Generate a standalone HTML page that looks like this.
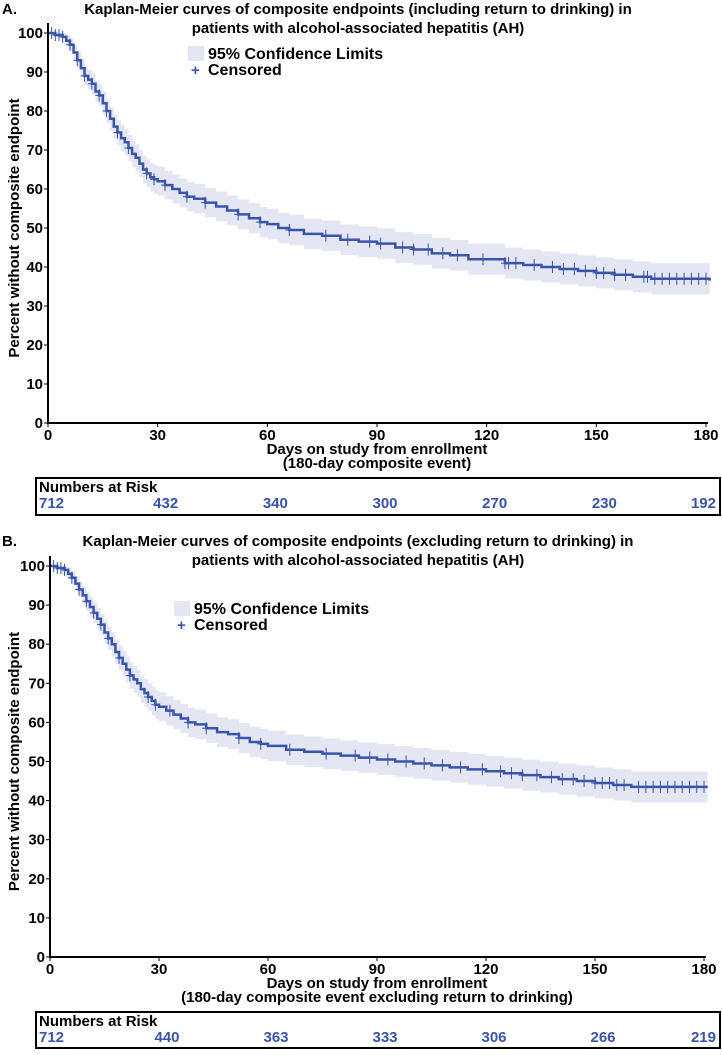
<!DOCTYPE html>
<html><head><meta charset="utf-8"><style>
body{margin:0;background:#fff;}
svg text{font-family:"Liberation Sans",Arial,sans-serif;font-weight:bold;}
</style></head><body>
<svg id="chart" width="722" height="1050" viewBox="0 0 722 1050" xmlns="http://www.w3.org/2000/svg">
</svg>
<script>
const xTicks=[0,30,60,90,120,150,180];
const yTicks=[0,10,20,30,40,50,60,70,80,90,100];
const daysA=[0,2,4,5,6,7,8,9,10,11,12,13,14,15,16,17,18,19,20,21,22,23,24,25,26,27,28,29,30,32,34,36,38,40,43,46,49,52,55,58,60,63,66,70,75,80,85,90,95,100,105,110,115,120,125,130,135,140,145,150,155,160,165,181];
const survA=[100,99.5,99,98,97,95,93,91,89,88,87,85,84,82,80,78,76,74.5,73,72,70.5,69,68,66.5,65,64,63,62.5,62,61,60,59,58,57.5,56.5,55.5,54.5,53.5,52.5,51.5,51,50,49.5,48.5,48,47,46.5,46,45,44.5,43.5,43,42,42,41,40.5,40,39.5,39,38.5,38,37.5,37,36.5];
const censA=[1,2,3,4,6,8,10,12,14,16,19,22,27,29,32,38,43,52,58,66,76,82,88,91,97,100,104,108,112,119,125,126,128,133,138,141,144,147,150,152,155,158,163,164,166,168,170,172,174,176,178,180];
const riskA=[712,432,340,300,270,230,192];
const daysB=[0,2,4,5,6,7,8,9,10,11,12,13,14,15,16,17,18,19,20,21,22,23,24,25,26,27,28,29,30,32,34,36,38,40,43,46,49,52,55,58,60,65,70,75,80,85,90,95,100,105,110,115,120,125,130,135,140,145,150,155,160,181];
const survB=[100,99.5,99,98,97,95.5,94,92.5,91,89.5,88,86.5,85,83,81.5,80,78,76.5,75,73.5,72,71,70,68.5,67.5,66.5,65.5,64.5,64,63,62,61,60,59.5,58.5,57.5,57,56,55,54.5,54,53,52.5,52,51.5,51,50.5,50,49.5,49,48.5,48,47.5,47,46.5,46,45.5,45,44.5,44,43.5,43.5];
const censB=[1,2,3,4,6,8,10,12,14,16,19,22,27,29,33,38,43,52,58,66,76,84,88,93,98,103,108,113,119,124,127,130,134,138,141,144,147,150,152,154,156,158,162,164,166,168,170,172,174,176,178,180];
const riskB=[712,440,363,333,306,266,219];
const ciDays=[0,5,10,20,30,60,180];
const ciHalf=[0,1.5,2.5,3.3,3.7,3.9,4.0];

const NS="http://www.w3.org/2000/svg";
const svg=document.getElementById('chart');
function mk(tag,attrs,parent,txt){const e=document.createElementNS(NS,tag);for(const k in attrs)e.setAttribute(k,attrs[k]);if(txt!==undefined)e.textContent=txt;(parent||svg).appendChild(e);return e;}
const BLUE="#3a54aa";
function ciAt(d){for(let i=1;i<ciDays.length;i++){if(d<=ciDays[i]){const f=(d-ciDays[i-1])/(ciDays[i]-ciDays[i-1]);return ciHalf[i-1]+f*(ciHalf[i]-ciHalf[i-1]);}}return ciHalf[ciHalf.length-1];}

function panel(o){
  const g=mk('g',{});
  
  
  const x=d=>o.x0+(o.x1-o.x0)*d/180;
  const y=v=>o.y0-(o.y0-o.y100)*v/100;
  let t=mk('text',{x:2,y:o.titleY,'font-size':15},g,o.letter);
  
  t=mk('text',{x:358,y:o.titleY,'font-size':15,'text-anchor':'middle'},g,o.title1);
  
  t=mk('text',{x:358,y:o.titleY+19,'font-size':15,'text-anchor':'middle'},g,'patients with alcohol-associated hepatitis (AH)');
  
  let up='',lo='';
  for(let i=0;i<o.days.length;i++){
    const xa=x(o.days[i]),xb=x(i+1<o.days.length?o.days[i+1]:o.days[i]);
    const h=ciAt(o.days[i]);
    up+=`${xa},${y(Math.min(100,o.surv[i]+h))} ${xb},${y(Math.min(100,o.surv[i]+h))} `;
    lo=`${xb},${y(o.surv[i]-h)} ${xa},${y(o.surv[i]-h)} `+lo;
  }
  let b=mk('polygon',{points:up+lo,fill:'#e4e6f4'},g);
  
  let d=`M${x(o.days[0])},${y(o.surv[0])}`;
  for(let i=1;i<o.days.length;i++){d+=` H${x(o.days[i])} V${y(o.surv[i])}`;}
  let p=mk('path',{d:d,fill:'none',stroke:BLUE,'stroke-width':2.5},g);
  
  function survAt(day){let s=o.surv[0];for(let i=0;i<o.days.length;i++){if(o.days[i]<=day)s=o.surv[i];}return s;}
  o.cens.forEach(c=>{
    const cx=x(c),cy=y(survAt(c));
    const m=mk('path',{d:`M${cx-4},${cy}H${cx+4}M${cx},${cy-6}V${cy+6}`,stroke:BLUE,'stroke-width':1},g);
    
  });
  let ax=mk('path',{d:`M${o.x0},${o.y100-10}V${o.y0}H${o.x1+2}`,fill:'none',stroke:'#000','stroke-width':2},g);
  
  yTicks.forEach(v=>{
    mk('line',{x1:o.x0-4,x2:o.x0,y1:y(v),y2:y(v),stroke:'#000','stroke-width':1},g);
    const tl=mk('text',{x:o.x0-5,y:y(v)+5,'font-size':15,'text-anchor':'end'},g,v);
    
  });
  xTicks.forEach(v=>{
    mk('line',{x1:x(v),x2:x(v),y1:o.y0,y2:o.y0+4,stroke:'#000','stroke-width':1},g);
    const tl=mk('text',{x:x(v),y:o.y0+17,'font-size':15,'text-anchor':'middle'},g,v);
    
  });
  t=mk('text',{x:(o.x0+o.x1)/2,y:o.y0+31,'font-size':15,'text-anchor':'middle'},g,'Days on study from enrollment');
  
  t=mk('text',{x:(o.x0+o.x1)/2,y:o.y0+45,'font-size':15,'text-anchor':'middle'},g,o.sub);
  
  const yc=(o.y0+o.y100)/2;
  t=mk('text',{x:19,y:yc,'font-size':15,'text-anchor':'middle',transform:`rotate(-90 19 ${yc})`},g,'Percent without composite endpoint');
  
  let r=mk('rect',{x:o.lx,y:o.ly-12,width:16,height:15,fill:'#e4e6f4'},g);
  
  t=mk('text',{x:o.lx+20,y:o.ly+1,'font-size':16},g,'95% Confidence Limits');
  
  t=mk('text',{x:o.lx+3,y:o.ly+17,'font-size':15,fill:BLUE},g,'+');
  
  t=mk('text',{x:o.lx+20,y:o.ly+17,'font-size':16},g,'Censored');
  
  r=mk('rect',{x:36,y:o.by,width:684,height:o.bh,fill:'none',stroke:'#000','stroke-width':2},g);
  
  t=mk('text',{x:39,y:o.by+14,'font-size':15},g,'Numbers at Risk');
  
  o.risk.forEach((n,i)=>{
    const anc=i===0?'start':(i===o.risk.length-1?'end':'middle');
    const xx=i===0?39:(i===o.risk.length-1?716:x(xTicks[i])+8);
    const rt=mk('text',{x:xx,y:o.by+30,'font-size':15,fill:BLUE,'text-anchor':anc},g,n);
    
  });
}
panel({name:'panel-a',letter:'A.',title1:'Kaplan-Meier curves of composite endpoints (including return to drinking) in',titleY:14,
  x0:48,x1:706,y0:423,y100:33,days:daysA,surv:survA,cens:censA,risk:riskA,
  sub:'(180-day composite event)',lx:188,ly:58,by:478,bh:37});
panel({name:'panel-b',letter:'B.',title1:'Kaplan-Meier curves of composite endpoints (excluding return to drinking) in',titleY:546,
  x0:50,x1:704,y0:957,y100:566,days:daysB,surv:survB,cens:censB,risk:riskB,
  sub:'(180-day composite event excluding return to drinking)',lx:174,ly:613,by:1012,bh:36});
</script>
</body></html>
